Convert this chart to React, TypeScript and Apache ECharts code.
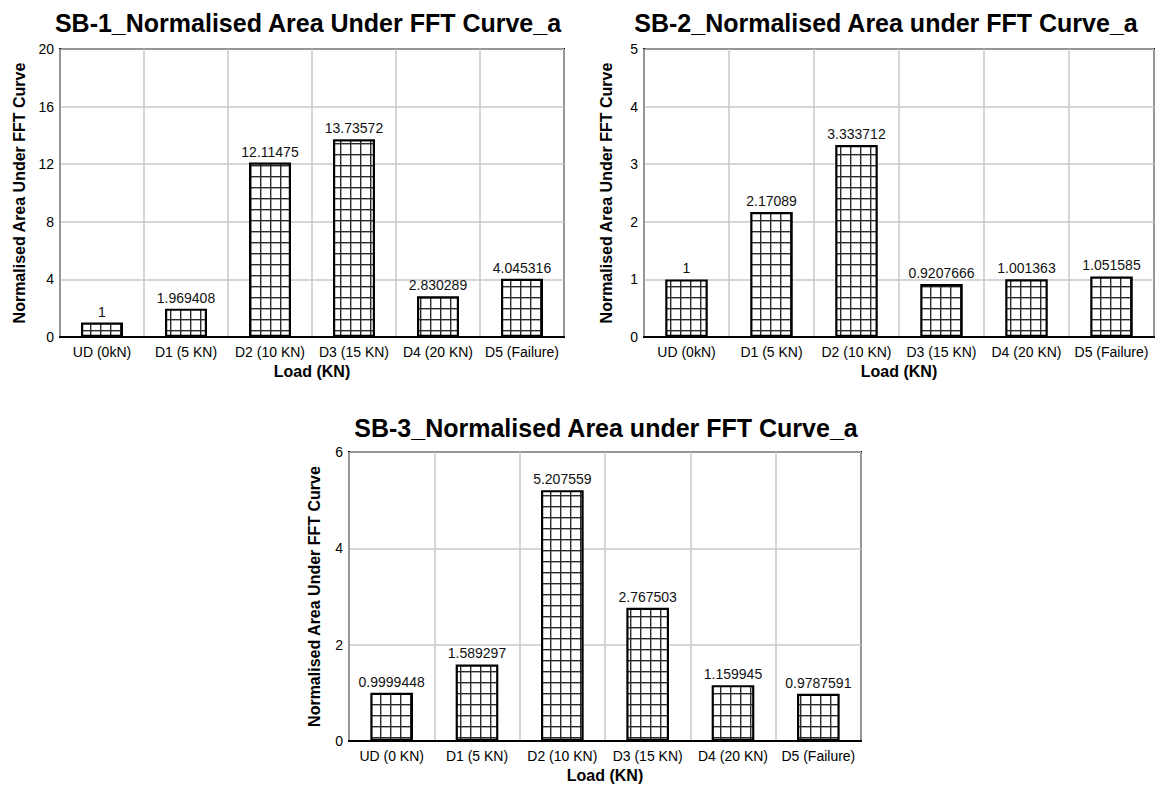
import React, { useEffect, useRef } from "react";
import * as echarts from "echarts";

const categories1 = ["UD (0kN)", "D1 (5 KN)", "D2 (10 KN)", "D3 (15 KN)", "D4 (20 KN)", "D5 (Failure)"];
const categories2 = ["UD (0kN)", "D1 (5 KN)", "D2 (10 KN)", "D3 (15 KN)", "D4 (20 KN)", "D5 (Failure)"];
const categories3 = ["UD (0 KN)", "D1 (5 KN)", "D2 (10 KN)", "D3 (15 KN)", "D4 (20 KN)", "D5 (Failure)"];

const values1 = [1, 1.969408, 12.11475, 13.73572, 2.830289, 4.045316];
const values2 = [1, 2.17089, 3.333712, 0.9207666, 1.001363, 1.051585];
const values3 = [0.9999448, 1.589297, 5.207559, 2.767503, 1.159945, 0.9787591];

const titles = [
  "SB-1_Normalised Area Under FFT Curve_a",
  "SB-2_Normalised Area under FFT Curve_a",
  "SB-3_Normalised Area under FFT Curve_a",
];
const yAxisName = "Normalised Area Under FFT Curve";
const xAxisName = "Load (KN)";
const yMax = [20, 5, 6];
const yInterval = [4, 1, 2];

const FONT = "'Liberation Sans', Arial, sans-serif";

function makePattern(): HTMLCanvasElement {
  const c = document.createElement("canvas");
  c.width = 10;
  c.height = 11;
  const ctx = c.getContext("2d")!;
  ctx.fillStyle = "#ffffff";
  ctx.fillRect(0, 0, 10, 11);
  ctx.fillStyle = "#2a2a2a";
  ctx.fillRect(0, 0, 10, 1.4);
  ctx.fillRect(0, 0, 1.4, 11);
  return c;
}

export default function App() {
  const ref = useRef<HTMLDivElement>(null);
  useEffect(() => {
    if (!ref.current) return;
    const chart = echarts.init(ref.current, undefined, { renderer: "svg" });
    const pattern = makePattern();
    const grids = [
      { left: 60, top: 49, width: 504, height: 288 },
      { left: 644, top: 49, width: 510, height: 288 },
      { left: 349, top: 452, width: 512, height: 289 },
    ];
    const nameGaps = [33, 30, 27];
    const cats = [categories1, categories2, categories3];
    const vals = [values1, values2, values3];
    const titleCenters = [
      { x: 303, y: 5 },
      { x: 881, y: 5 },
      { x: 601, y: 410 },
    ];
    const option: any = {
      animation: false,
      backgroundColor: "#ffffff",
      title: titles.map((t, i) => ({
        text: t,
        left: titleCenters[i].x,
        top: titleCenters[i].y,
        textAlign: "center",
        textStyle: { fontSize: 25, fontWeight: "bold", color: "#000", fontFamily: FONT },
      })),
      grid: grids.map((g) => ({
        ...g,
        show: true,
        borderColor: "#000",
        borderWidth: 2,
        backgroundColor: "transparent",
        containLabel: false,
      })),
      xAxis: cats.map((c, i) => ({
        type: "category",
        gridIndex: i,
        data: c,
        name: xAxisName,
        nameLocation: "middle",
        nameGap: 26,
        nameTextStyle: { fontSize: 16, fontWeight: "bold", color: "#000", fontFamily: FONT },
        axisLine: { show: true, lineStyle: { color: "#000", width: 2 } },
        axisTick: { show: false },
        axisLabel: { interval: 0, fontSize: 14, color: "#000", margin: 8, fontFamily: FONT },
        splitLine: { show: true, lineStyle: { color: "#c8c8c8", width: 1.5 } },
        z: 1,
      })),
      yAxis: vals.map((_, i) => ({
        type: "value",
        gridIndex: i,
        min: 0,
        max: yMax[i],
        interval: yInterval[i],
        name: yAxisName,
        nameLocation: "middle",
        nameGap: nameGaps[i],
        nameTextStyle: { fontSize: 16, fontWeight: "bold", color: "#000", fontFamily: FONT },
        axisLine: { show: true, lineStyle: { color: "#000", width: 2 } },
        axisTick: { show: false },
        axisLabel: { fontSize: 14, color: "#000", margin: 6, fontFamily: FONT },
        splitLine: { show: true, lineStyle: { color: "#c8c8c8", width: 1.5 } },
      })),
      series: vals.map((v, i) => ({
        type: "bar",
        xAxisIndex: i,
        yAxisIndex: i,
        data: v,
        barWidth: "50%",
        itemStyle: {
          color: { image: pattern, repeat: "repeat" },
          borderColor: "#000",
          borderWidth: 2.2,
        },
        label: {
          show: true,
          position: "top",
          distance: 4,
          fontSize: 14,
          color: "#111",
          fontFamily: FONT,
        },
      })),
    };
    chart.setOption(option);
    return () => chart.dispose();
  }, []);
  return (
    <div
      ref={ref}
      style={{ position: "fixed", left: 0, top: 0, width: 1164, height: 785, background: "#fff" }}
    />
  );
}
